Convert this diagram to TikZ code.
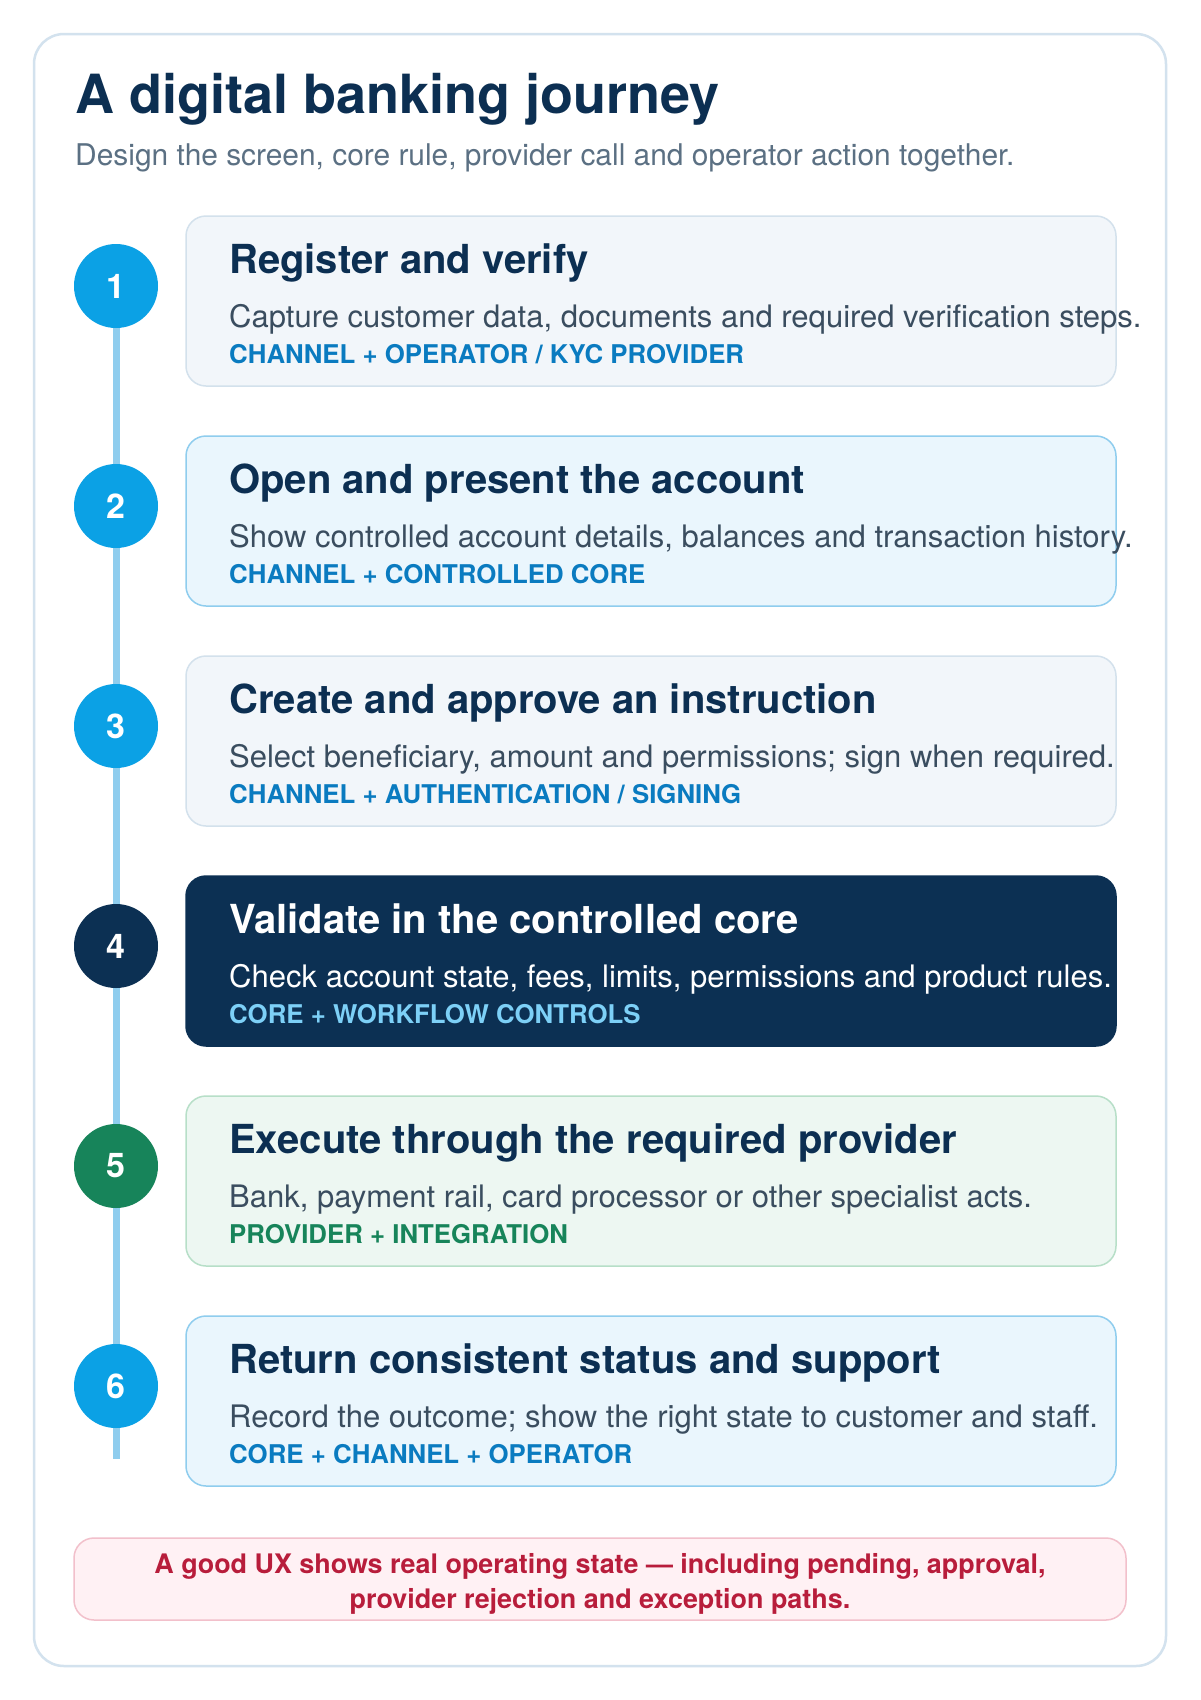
\documentclass[tikz,border=0pt]{standalone}
\usepackage{fontspec}
\setmainfont{TeX Gyre Heros}
\usetikzlibrary{backgrounds}
\definecolor{titlec}{HTML}{0C2F52}
\definecolor{subc}{HTML}{5B7083}
\definecolor{descc}{HTML}{3A4D5F}
\definecolor{tagblue}{HTML}{0A7BC0}
\definecolor{circblue}{HTML}{0BA1E5}
\definecolor{linec}{HTML}{8FCDEE}
\definecolor{outerc}{HTML}{D3E2EE}
\definecolor{graybg}{HTML}{F2F6FA}
\definecolor{grayln}{HTML}{D3E1EC}
\definecolor{bluebg}{HTML}{EAF6FD}
\definecolor{blueln}{HTML}{8FCDEE}
\definecolor{navy}{HTML}{0C3053}
\definecolor{tagnavy}{HTML}{7DD0F7}
\definecolor{greenbg}{HTML}{EDF7F2}
\definecolor{greenln}{HTML}{B7DFC8}
\definecolor{greenc}{HTML}{17845A}
\definecolor{footbg}{HTML}{FFF1F4}
\definecolor{footln}{HTML}{F2C0CB}
\definecolor{footc}{HTML}{B81D3B}
\tikzset{
  txt/.style={inner sep=0pt, anchor=base west},
  boxbase/.style={rounded corners=20pt, minimum width=930pt, minimum height=170pt, inner sep=0pt, line width=1.5pt},
  circbase/.style={circle, minimum size=84pt, inner sep=0pt, text=white, font=\bfseries\fontsize{34}{40}\selectfont},
  headbase/.style={txt, font=\bfseries\fontsize{40}{48}\selectfont},
  descbase/.style={txt, font=\fontsize{31}{36}\selectfont},
  tagbase/.style={txt, font=\bfseries\fontsize{25.8}{30}\selectfont},
  graybox/.style={boxbase, fill=graybg, draw=grayln},
  graycirc/.style={circbase, fill=circblue},
  grayhead/.style={headbase, text=titlec},
  graydesc/.style={descbase, text=descc},
  graytag/.style={tagbase, text=tagblue},
  bluebox/.style={boxbase, fill=bluebg, draw=blueln},
  bluecirc/.style={circbase, fill=circblue},
  bluehead/.style={headbase, text=titlec},
  bluedesc/.style={descbase, text=descc},
  bluetag/.style={tagbase, text=tagblue},
  navybox/.style={boxbase, fill=navy, draw=navy},
  navycirc/.style={circbase, fill=navy},
  navyhead/.style={headbase, text=white},
  navydesc/.style={descbase, text=white},
  navytag/.style={tagbase, text=tagnavy},
  greenbox/.style={boxbase, fill=greenbg, draw=greenln},
  greencirc/.style={circbase, fill=greenc},
  greenhead/.style={headbase, text=titlec},
  greendesc/.style={descbase, text=descc},
  greentag/.style={tagbase, text=greenc},
  footbox/.style={rounded corners=20pt, minimum width=1052pt, minimum height=82pt, inner sep=0pt, line width=1.5pt, fill=footbg, draw=footln},
  foottxt/.style={inner sep=0pt, anchor=base, text=footc, font=\bfseries\fontsize{26.9}{32}\selectfont},
  timeline/.style={draw=linec, line width=7pt},
}
\newcommand\mystep[6]{%
  \node[#3box] (box#1) at (651,{#2+85}) {};
  \node[#3circ] (c#1) at (116,{#2+70}) {#1};
  \node[#3head] (h#1) at (229,{#2+57}) {#4};
  \node[#3desc] (d#1) at (229,{#2+111}) {#5};
  \node[#3tag] (t#1) at (229,{#2+147}) {#6};
}
\begin{document}
\begin{tikzpicture}[x=1pt,y=-1pt]
\useasboundingbox (0,0) rectangle (1200,1700);
\begin{scope}[on background layer]
  \fill[white] (0,0) rectangle (1200,1700);
  \draw[draw=outerc, fill=white, line width=2.5pt, rounded corners=30pt] (34,34) rectangle (1166,1666);
\end{scope}
\node[txt, text=titlec, font=\bfseries\fontsize{54}{60}\selectfont] (title) at (75,113) {A digital banking journey};
\node[txt, text=subc, font=\fontsize{29.9}{36}\selectfont] (subtitle) at (75,165) {Design the screen, core rule, provider call and operator action together.};

\mystep{1}{216}{gray}{Register and verify}{Capture customer data, documents and required verification steps.}{CHANNEL + OPERATOR / KYC PROVIDER}
\mystep{2}{436}{blue}{Open and present the account}{Show controlled account details, balances and transaction history.}{CHANNEL + CONTROLLED CORE}
\mystep{3}{656}{gray}{Create and approve an instruction}{Select beneficiary, amount and permissions; sign when required.}{CHANNEL + AUTHENTICATION / SIGNING}
\mystep{4}{876}{navy}{Validate in the controlled core}{Check account state, fees, limits, permissions and product rules.}{CORE + WORKFLOW CONTROLS}
\mystep{5}{1096}{green}{Execute through the required provider}{Bank, payment rail, card processor or other specialist acts.}{PROVIDER + INTEGRATION}
\mystep{6}{1316}{blue}{Return consistent status and support}{Record the outcome; show the right state to customer and staff.}{CORE + CHANNEL + OPERATOR}

\coordinate (lineend) at (116,1459);
\begin{scope}[on background layer]
  \draw[timeline] (c1.center) -- (lineend);
\end{scope}

\node[footbox] (foot) at (600,1579) {};
\node[foottxt] (foot1) at (600,1573) {A good UX shows real operating state — including pending, approval,};
\node[foottxt] (foot2) at (600,1608) {provider rejection and exception paths.};
\end{tikzpicture}
\end{document}
